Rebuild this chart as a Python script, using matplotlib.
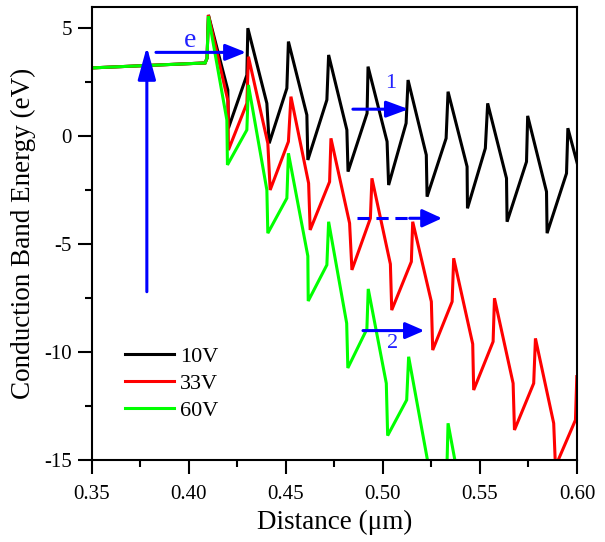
import matplotlib
matplotlib.use("Agg")
import matplotlib.pyplot as plt
from matplotlib.ticker import MultipleLocator

plt.rcParams['font.family'] = ['Liberation Serif', 'DejaVu Serif']
plt.rcParams['axes.unicode_minus'] = False

# ---------------- data ----------------
x_10V = [0.350, 0.4085, 0.4095, 0.4102,
         0.4202, 0.4205, 0.4300, 0.4305,
         0.4403, 0.4415, 0.4506, 0.4514,
         0.4609, 0.4614, 0.4712, 0.4721,
         0.4815, 0.4821, 0.4919, 0.4924,
         0.5022, 0.5030, 0.5120, 0.5130,
         0.5224, 0.5228, 0.5326, 0.5336,
         0.5434, 0.5436, 0.5528, 0.5540,
         0.5637, 0.5640, 0.5740, 0.5746,
         0.5843, 0.5846, 0.5946, 0.5953,
         0.6001]
y_10V = [3.15, 3.38, 3.60, 5.60,
         2.13, 0.36, 2.82, 4.99,
         1.51, -0.34, 2.21, 4.37,
         0.97, -1.11, 1.67, 3.75,
         0.28, -1.65, 1.05, 3.21,
         -0.26, -2.27, 0.59, 2.59,
         -0.88, -2.81, -0.11, 2.05,
         -1.42, -3.35, -0.57, 1.51,
         -1.96, -3.97, -1.19, 0.93,
         -2.58, -4.50, -1.73, 0.36,
         -1.26]

x_33V = [0.350, 0.4085, 0.4095, 0.4102,
         0.4203, 0.4205, 0.4300, 0.4308,
         0.4408, 0.4420, 0.4514, 0.4527,
         0.4618, 0.4626, 0.4726, 0.4733,
         0.4829, 0.4841, 0.4936, 0.4944,
         0.5039, 0.5046, 0.5147, 0.5154,
         0.5250, 0.5257, 0.5357, 0.5365,
         0.5463, 0.5468, 0.5568, 0.5575,
         0.5671, 0.5678, 0.5777, 0.5786,
         0.5880, 0.5889, 0.5992, 0.5999]
y_33V = [3.15, 3.38, 3.60, 5.60,
         1.60, -0.65, 1.51, 3.67,
         -0.34, -2.50, -0.26, 1.82,
         -2.19, -4.35, -2.12, -0.11,
         -4.04, -6.20, -3.81, -1.96,
         -5.93, -8.06, -5.82, -3.97,
         -7.67, -9.91, -7.67, -5.66,
         -9.63, -11.76, -9.52, -7.51,
         -11.45, -13.61, -11.45, -9.37,
         -13.30, -15.30, -13.15, -11.14]

x_60V = [0.350, 0.4085, 0.4095, 0.4102,
         0.4197, 0.4200, 0.4300, 0.4308,
         0.4403, 0.4408, 0.4506, 0.4514,
         0.4614, 0.4616, 0.4712, 0.4721,
         0.4814, 0.4820, 0.4918, 0.4925,
         0.5018, 0.5025, 0.5123, 0.5133,
         0.5232, 0.5235, 0.5330, 0.5336,
         0.5433]
y_60V = [3.15, 3.38, 3.60, 5.55,
         0.74, -1.34, 0.28, 2.36,
         -2.50, -4.50, -2.88, -0.80,
         -5.56, -7.64, -5.97, -3.97,
         -8.67, -10.74, -8.94, -7.08,
         -11.45, -13.87, -12.22, -10.22,
         -15.10, -17.10, -15.40, -13.30,
         -18.00]

series_labels = ['10V', '33V', '60V']
series_colors = ['#000000', '#ff0000', '#00ff00']

# annotation arrows: (start_x, start_y, tip_x, tip_y)
arrow_up = (0.3785, -7.21, 0.3785, 4.13)
arrow_e = (0.3832, 3.87, 0.4296, 3.87)
arrow_1 = (0.4846, 1.24, 0.5133, 1.24)
arrow_dash = (0.4867, -3.81, 0.5305, -3.81)
arrow_2 = (0.4898, -9.01, 0.5214, -9.01)
label_texts = ['e', '1', '2']
label_pos = [(0.4010, 4.43), (0.5039, 2.44), (0.5050, -9.60)]

# ---------------- figure ----------------
fig = plt.figure(figsize=(6.05, 5.42), dpi=100)
ax = fig.add_axes([91.5/605, 1-460/542, (577-91.5)/605, (460-7)/542])

for xs, ys, lab, col in zip([x_10V, x_33V, x_60V], [y_10V, y_33V, y_60V],
                            series_labels, series_colors):
    ax.plot(xs, ys, color=col, lw=2.2, label=lab, solid_joinstyle='miter')

ax.set_xlim(0.35, 0.60)
ax.set_ylim(-15, 5.97)
ax.xaxis.set_major_locator(MultipleLocator(0.05))
ax.xaxis.set_minor_locator(MultipleLocator(0.025))
ax.yaxis.set_major_locator(MultipleLocator(5))
ax.yaxis.set_minor_locator(MultipleLocator(2.5))
ax.set_xticklabels([f'{v:.2f}' for v in ax.get_xticks()])
ax.tick_params(which='major', direction='out', length=10, width=1.5, labelsize=15)
ax.tick_params(which='minor', direction='out', length=5, width=1.5)
ax.tick_params(axis='x', which='major', pad=8)
ax.tick_params(axis='y', which='major', pad=4)
for sp in ax.spines.values():
    sp.set_linewidth(1.5)

ax.set_xlabel('Distance (\u03bcm)', fontsize=19.5, labelpad=4)
ax.set_ylabel('Conduction Band Energy (eV)', fontsize=19.5, labelpad=6)

blue = '#0000ff'

def draw_arrow(a, hl, hw, dashed=False):
    x0, y0, x1, y1 = a
    style = f'-|>,head_length={hl},head_width={hw}'
    if dashed:
        # dashed shaft, solid head
        frac = 0.62
        xm = x0 + (x1 - x0) * frac
        ax.plot([x0, xm], [y0, y1], color=blue, lw=2.2, dashes=(4, 2.2),
                solid_capstyle='butt', dash_capstyle='butt')
        ax.annotate('', xy=(x1, y1), xytext=(xm, y0),
                    arrowprops=dict(arrowstyle=style, color=blue, lw=2.2,
                                    shrinkA=0, shrinkB=0, mutation_scale=10))
    else:
        ax.annotate('', xy=(x1, y1), xytext=(x0, y0),
                    arrowprops=dict(arrowstyle=style, color=blue, lw=2.2,
                                    shrinkA=0, shrinkB=0, mutation_scale=10))

draw_arrow(arrow_up, 2.0, 0.55)
draw_arrow(arrow_e, 1.25, 0.5)
draw_arrow(arrow_1, 1.35, 0.5)
draw_arrow(arrow_dash, 1.2, 0.55, dashed=True)
draw_arrow(arrow_2, 1.15, 0.5)

for t, (tx, ty), fs in zip(label_texts, label_pos, [20, 16, 16]):
    ax.text(tx, ty, t, color='#2222ff', fontsize=fs, ha='center', va='center')

ax.legend(loc='upper left', bbox_to_anchor=(0.069, 0.251), frameon=False,
          fontsize=16, handlelength=2.2, handletextpad=0.26,
          labelspacing=0.29, borderpad=0, borderaxespad=0)

fig.savefig('out.png', dpi=100)
